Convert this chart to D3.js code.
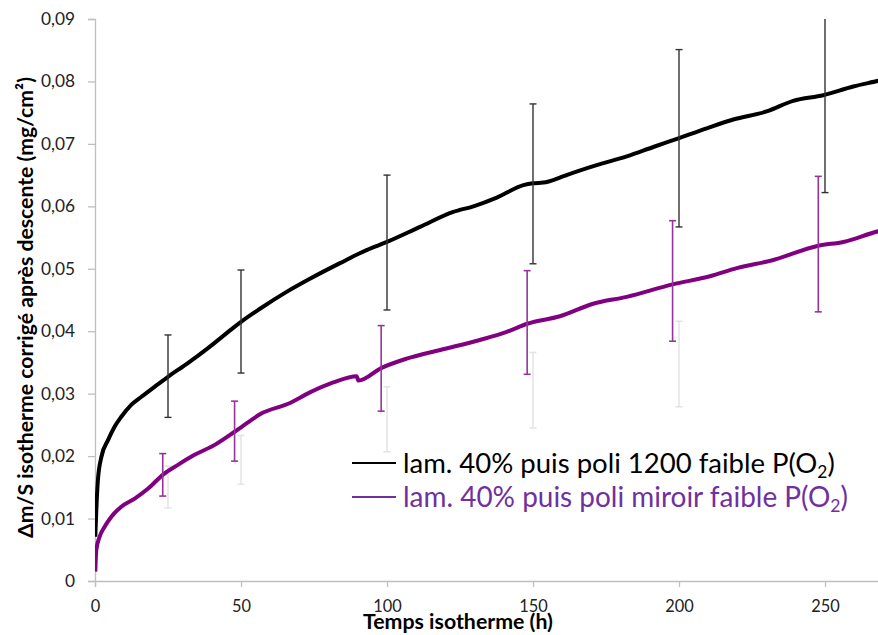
<!DOCTYPE html>
<html><head><meta charset="utf-8">
<script src="https://cdn.jsdelivr.net/npm/d3@7"></script>
<style>
html,body{margin:0;padding:0;background:#fff;}
svg text{font-family:Lato,"Open Sans",sans-serif;}
</style></head>
<body>
<svg id="chart" width="878" height="635"></svg>
<script>
// ---- data ----
const yTicks = [0, 0.01, 0.02, 0.03, 0.04, 0.05, 0.06, 0.07, 0.08, 0.09];
const xTicks = [0, 50, 100, 150, 200, 250];

const blackX = [0.1,0.45,1,2.2,4.5,6.7,9,12.4,15.9,20.4,25,31.8,38.7,46.7,50,56.5,65.6,73.6,83.9,93,100,111.3,122.7,129.6,137.6,146.7,150,153.5,159.2,161.5,171.8,182.1,191.2,199.8,209.5,218.6,230,239.1,249.4,259.7,268.2,270];
const blackY = [0.0071,0.0114,0.0162,0.0199,0.0226,0.0247,0.0263,0.0282,0.0295,0.0311,0.0327,0.0349,0.0373,0.0403,0.0415,0.0436,0.0463,0.0484,0.0509,0.0530,0.0543,0.0567,0.0591,0.0600,0.0614,0.0634,0.0637,0.0638,0.0646,0.0650,0.0666,0.0680,0.0695,0.0709,0.0725,0.0739,0.0752,0.0769,0.0778,0.0792,0.0801,0.0803];

const purpleX = [0.1,0.45,1.6,3.3,5.6,9,13.6,18.2,23.2,28.4,34.1,41,47.8,52.4,56.5,66.8,73.6,81.6,89.6,90.2,98,106.7,118.2,131.8,141,148,159.2,170.6,182.1,197.8,210.6,219.8,232.3,247.7,256.3,268.2,270];
const purpleY = [0.0015,0.0050,0.0071,0.0087,0.0103,0.0119,0.0132,0.0148,0.0170,0.0186,0.0202,0.0218,0.0239,0.0254,0.0267,0.0285,0.0302,0.0318,0.0328,0.0321,0.0341,0.0356,0.0370,0.0386,0.0399,0.0412,0.0424,0.0444,0.0455,0.0475,0.0488,0.0501,0.0514,0.0537,0.0543,0.0560,0.0562];

const blackErrX  = [25, 50, 100, 150, 200, 250];
const blackErrLo = [0.0262, 0.0333, 0.0434, 0.0508, 0.0567, 0.0622];
const blackErrHi = [0.0394, 0.0498, 0.0650, 0.0764, 0.0851, 0.0930];

const purpleErrX  = [23.2, 47.8, 98, 148, 197.8, 247.7];
const purpleErrLo = [0.0136, 0.0192, 0.0272, 0.0331, 0.0384, 0.0431];
const purpleErrHi = [0.0204, 0.0288, 0.0409, 0.0497, 0.0577, 0.0648];

const grayErrX  = [25, 50, 100, 150, 200];
const grayErrLo = [0.0117, 0.0155, 0.0207, 0.0245, 0.0279];
const grayErrHi = [0.0184, 0.0233, 0.0311, 0.0366, 0.0416];

const legendLabels = ["lam. 40% puis poli 1200 faible P(O", "lam. 40% puis poli miroir faible P(O"];

// ---- layout ----
const svg = d3.select("#chart");
const L = 95, T = 19, B = 581;
const x = d3.scaleLinear().domain([0, 270]).range([L, L + 270 * 2.92]);
const y = d3.scaleLinear().domain([0, 0.09]).range([B, T]);
const axisColor = "#bfbfbf";

// scale a text's font size so that its rendered length matches a target
function fit(sel, target) {
  const n = sel.node();
  const fs = parseFloat(sel.attr("font-size"));
  const w = n.getComputedTextLength();
  if (w > 0) sel.attr("font-size", (fs * target / w).toFixed(2));
}

svg.append("defs").append("clipPath").attr("id", "plot")
  .append("rect").attr("x", L).attr("y", T).attr("width", 878 - L).attr("height", B - T);

// y axis
const yAxis = svg.append("g").attr("transform", `translate(${L},0)`)
  .call(d3.axisLeft(y).tickValues(yTicks).tickSize(7).tickPadding(13)
    .tickFormat(d => d === 0 ? "0" : d3.format(".2f")(d).replace(".", ",")));
yAxis.select(".domain").attr("stroke", axisColor).attr("stroke-width", 1.3);
yAxis.selectAll(".tick line").attr("stroke", axisColor).attr("stroke-width", 1.3);
yAxis.selectAll(".tick text").attr("font-size", 17.5).attr("fill", "#222")
  .style("font-family", "Lato, sans-serif");
{
  const t = yAxis.selectAll(".tick text").filter(d => d === 0.09);
  fit(t, 34);
  yAxis.selectAll(".tick text").attr("font-size", t.attr("font-size"));
}

// x axis
const xAxis = svg.append("g").attr("transform", `translate(0,${B})`)
  .call(d3.axisBottom(x).tickValues(xTicks).tickSize(6).tickPadding(13).tickFormat(d3.format("d")));
xAxis.select(".domain").attr("stroke", axisColor).attr("stroke-width", 1.3);
xAxis.selectAll(".tick line").attr("stroke", axisColor).attr("stroke-width", 1.3);
xAxis.selectAll(".tick text").attr("font-size", 16.5).attr("fill", "#222")
  .style("font-family", "Lato, sans-serif");
{
  const t = xAxis.selectAll(".tick text").filter(d => d === 100);
  fit(t, 28.5);
  xAxis.selectAll(".tick text").attr("font-size", t.attr("font-size"));
}

// titles
svg.append("text").attr("transform", "translate(32.5,538) rotate(-90)")
  .attr("text-anchor", "start").attr("font-size", 21.5).attr("font-weight", "bold").attr("fill", "#000")
  .attr("textLength", 461).attr("lengthAdjust", "spacingAndGlyphs")
  .text("Δm/S isotherme corrigé après descente (mg/cm²)");
const xTitle = svg.append("text").attr("x", 458).attr("y", 629)
  .attr("text-anchor", "middle").attr("font-size", 21).attr("font-weight", "bold").attr("fill", "#000")
  .text("Temps isotherme (h)");
fit(xTitle, 190);

const plot = svg.append("g").attr("clip-path", "url(#plot)");

function errBars(xs, lo, hi, color, width) {
  const g = plot.append("g").attr("stroke", color).attr("stroke-width", width);
  xs.forEach((xv, i) => {
    g.append("line").attr("x1", x(xv)).attr("x2", x(xv)).attr("y1", y(lo[i])).attr("y2", y(hi[i]));
    [lo[i], hi[i]].forEach(v => g.append("line")
      .attr("x1", x(xv) - 3.5).attr("x2", x(xv) + 3.5).attr("y1", y(v)).attr("y2", y(v)));
  });
}

errBars(grayErrX, grayErrLo, grayErrHi, "#e3e3e3", 1.5);

const line = d3.line().x(d => x(d[0])).y(d => y(d[1])).curve(d3.curveMonotoneX);
plot.append("path").datum(blackX.map((v, i) => [v, blackY[i]]))
  .attr("d", line).attr("fill", "none").attr("stroke", "#000").attr("stroke-width", 4)
  .attr("stroke-linejoin", "round");
plot.append("path").datum(purpleX.map((v, i) => [v, purpleY[i]]))
  .attr("d", line).attr("fill", "none").attr("stroke", "#800080").attr("stroke-width", 4)
  .attr("stroke-linejoin", "round");

errBars(blackErrX, blackErrLo, blackErrHi, "#333", 1.4);
errBars(purpleErrX, purpleErrLo, purpleErrHi, "#95359a", 1.6);

// legend
const legColors = ["#000", "#7030a0"];
const legWidths = [432, 445];
legendLabels.forEach((lab, i) => {
  const yy = 463 + i * 34;
  svg.append("line").attr("x1", 352).attr("x2", 396).attr("y1", yy).attr("y2", yy)
    .attr("stroke", legColors[i]).attr("stroke-width", 2);
  const t = svg.append("text").attr("x", 403).attr("y", yy + 10).attr("font-size", 27)
    .attr("fill", legColors[i]);
  t.append("tspan").text(lab);
  t.append("tspan").attr("font-size", 17).attr("dy", 5).text("2");
  t.append("tspan").attr("dy", -5).text(")");
  const w = t.node().getComputedTextLength();
  const k = legWidths[i] / w;
  t.attr("font-size", (27 * k).toFixed(2));
  t.select("tspan:nth-child(2)").attr("font-size", (17 * k).toFixed(2));
});
</script>
</body></html>
